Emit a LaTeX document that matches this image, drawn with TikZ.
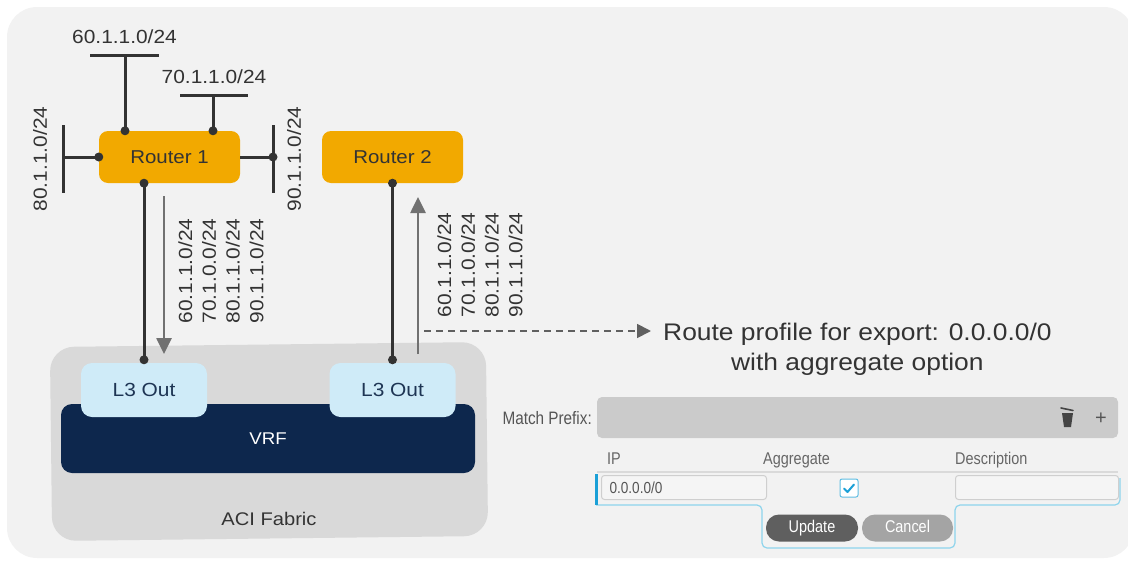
\documentclass[tikz,border=0pt]{standalone}
\usepackage{fontspec}
\setmainfont{Liberation Sans}
\newfontfamily\widefont[FakeStretch=1.1]{Liberation Sans}
\newfontfamily\narrowfont[FakeStretch=0.85]{Liberation Sans}
\usetikzlibrary{arrows.meta,calc}
\definecolor{panelbg}{HTML}{F2F2F2}
\definecolor{routerfill}{HTML}{F2A900}
\definecolor{txt}{HTML}{333333}
\definecolor{wirec}{HTML}{333333}
\definecolor{arrowc}{HTML}{717171}
\definecolor{fabricc}{HTML}{D9D9D9}
\definecolor{vrfc}{HTML}{0D274D}
\definecolor{l3c}{HTML}{CFEBF8}
\definecolor{l3txt}{HTML}{1E3554}
\definecolor{barc}{HTML}{CBCBCB}
\definecolor{uitxt}{HTML}{555555}
\definecolor{sepc}{HTML}{DADADA}
\definecolor{boxline}{HTML}{CFCFCF}
\definecolor{boxfill}{HTML}{F5F5F5}
\definecolor{cyanbar}{HTML}{1BA0D7}
\definecolor{cyanline}{HTML}{8ED4EC}
\definecolor{btndark}{HTML}{5F5F5F}
\definecolor{btnlight}{HTML}{A4A4A4}
\definecolor{iconc}{HTML}{444444}
\tikzset{
  router/.style={fill=routerfill, rounded corners=9pt, minimum width=141pt, minimum height=52pt,
    inner sep=0pt, font=\widefont\fontsize{18.6}{20}\selectfont, text=txt},
  l3box/.style={fill=l3c, rounded corners=11pt, minimum width=126pt, minimum height=54pt,
    inner sep=0pt, font=\widefont\fontsize{19}{21}\selectfont, text=l3txt},
  vrfbox/.style={fill=vrfc, rounded corners=11pt, minimum width=414pt, minimum height=69pt,
    inner sep=0pt, font=\widefont\fontsize{17}{18}\selectfont, text=white},
  fabricbox/.style={fill=fabricc, rounded corners=24pt, minimum width=436pt, minimum height=194pt, inner sep=0pt},
  fabtext/.style={font=\widefont\fontsize{18.3}{20}\selectfont, text=txt, inner sep=0pt},
  wire/.style={draw=wirec, line width=3pt},
  dotmark/.style={circle, fill=wirec, inner sep=0pt, minimum size=9pt},
  iplabel/.style={font=\widefont\fontsize{19}{23.8}\selectfont, text=txt, inner sep=0pt},
  garrow/.style={draw=arrowc, line width=2.6pt, -{Triangle[length=16pt,width=15pt]}},
  dasharrow/.style={draw=arrowc!85!black, line width=1.8pt, dash pattern=on 7pt off 5pt,
    -{Triangle[length=14pt,width=14pt]}},
  routetext/.style={font=\widefont\fontsize{24}{28}\selectfont, text=txt, inner sep=0pt},
  uitext/.style={font=\narrowfont\fontsize{18}{20}\selectfont, text=uitxt, inner sep=0pt},
  uihead/.style={font=\narrowfont\fontsize{17}{20}\selectfont, text=uitxt!90, inner sep=0pt},
  inbox/.style={draw=boxline, fill=boxfill, line width=1pt, rounded corners=3pt, minimum height=24pt,
    inner xsep=8pt, inner ysep=0pt, anchor=north west, font=\narrowfont\fontsize{16}{18}\selectfont, text=uitxt},
  btn/.style={rounded corners=13pt, minimum height=27pt, inner sep=0pt, text height=12pt, text depth=3pt,
    font=\narrowfont\fontsize{17}{19}\selectfont, text=white},
}
\begin{document}
\begin{tikzpicture}[x=1pt,y=-1pt]
\useasboundingbox (0,0) rectangle (1128,560);
% panel background
\fill[panelbg, rounded corners=30pt] (7,7) rectangle (1134,558);

% ACI fabric
\node[fabricbox, rotate=0.66] (fab) at (269,441.5) {};
\node[fabtext] (fablbl) at (269,519) {ACI Fabric};
\node[vrfbox] (vrf) at (268,438.5) {VRF};
\node[l3box] (l3a) at (144,390) {L3 Out};
\node[l3box] (l3b) at (392.5,390) {L3 Out};

% routers
\node[router] (r1) at (169.5,157) {Router 1};
\node[router] (r2) at (392.5,157) {Router 2};

% router 1 stub networks
\coordinate (n60) at (125,55);
\coordinate (n70) at (213,95);
\coordinate (n80) at (63,157);
\coordinate (n90) at (273,157);
\draw[wire] ([xshift=-35pt]n60) -- ([xshift=34pt]n60);
\draw[wire] ([xshift=-33pt]n70) -- ([xshift=35pt]n70);
\draw[wire] ([yshift=32pt]n80) -- ([yshift=-36pt]n80);
\draw[wire] ([yshift=32pt]n90) -- ([yshift=-36pt]n90);
\draw[wire] (n60) -- (n60 |- r1.north) node[dotmark] {};
\draw[wire] (n70) -- (n70 |- r1.north) node[dotmark] {};
\draw[wire] (n80) -- (n80 -| r1.west) node[dotmark] {};
\draw[wire] (r1.east) -- (n90) node[dotmark] {};
\node[iplabel] (lab60) at (124.5,37) {60.1.1.0/24};
\node[iplabel] (lab70) at (214,77) {70.1.1.0/24};
\node[iplabel, rotate=90] (lab80) at (40,159) {80.1.1.0/24};
\node[iplabel, rotate=90] (lab90) at (294,159) {90.1.1.0/24};

% router to L3 out links
\draw[wire] (l3a.north |- r1.south) node[dotmark] {} -- ([yshift=3pt]l3a.north) node[dotmark] {};
\draw[wire] (r2.south) node[dotmark] {} -- ([yshift=3pt]l3b.north) node[dotmark] {};

% route advertisement arrows
\coordinate (a1s) at (164,196);
\coordinate (a1e) at (164,354);
\coordinate (a2s) at (418,354);
\coordinate (a2e) at (418,197);
\draw[garrow] (a1s) -- (a1e);
\draw[garrow] (a2s) -- (a2e);
\node[iplabel, rotate=90, align=left] (adv1) at (221,271)
  {60.1.1.0/24\\70.1.0.0/24\\80.1.1.0/24\\90.1.1.0/24};
\node[iplabel, rotate=90, align=left] (adv2) at (480,265)
  {60.1.1.0/24\\70.1.0.0/24\\80.1.1.0/24\\90.1.1.0/24};

% route profile note
\node[routetext, anchor=base west] (route1) at (663,340) {Route profile for export: 0.0.0.0/0};
\node[routetext, anchor=base] (route2) at ([yshift=-30pt]route1.base) {with aggregate option};
\coordinate (dstart) at (424,331);
\draw[dasharrow] (dstart) -- ([xshift=-12pt]dstart -| route1.west);

% UI: match prefix
\node[uitext, anchor=east] (mp) at (592,418) {Match Prefix:};
\node[fill=barc, rounded corners=5pt, minimum width=521pt, minimum height=41pt, inner sep=0pt] (mpbar) at (857.5,417.5) {};
\fill[iconc] (1062,413) -- (1073,413) -- (1071,427) -- (1064,427) -- cycle;
\draw[iconc, line width=1.6pt, line cap=round] (1061,408) -- (1073,410.5);
\node[font=\fontsize{20}{22}\selectfont, text=uitxt, inner sep=0pt] (plus) at (1101,419) {+};

% headers
\node[uihead, anchor=base west] (hip) at (607,464) {IP};
\node[uihead, anchor=base west] (hagg) at (763,464) {Aggregate};
\node[uihead, anchor=base west] (hdesc) at (955,464) {Description};
\draw[sepc, line width=1.5pt] (597,472) -- (1118,472);

% row
\draw[cyanline, line width=1.2pt, rounded corners=5pt]
  (596,505) -- (762,505) -- (762,548) -- (955,548) -- (955,505) -- (1120,505) -- (1120,478);
\draw[cyanbar, line width=3pt] (596,474) -- (596,505);
\node[inbox, minimum width=165pt, text width=149pt, align=left] (ipbox) at (601,475) {0.0.0.0/0};
\node[draw=cyanbar!70, fill=white, line width=1pt, rounded corners=2pt, minimum size=18pt, inner sep=0pt] (cb) at (849,488) {};
\draw[cyanbar, line width=2pt, line cap=round, line join=round] (844,488.5) -- (847.5,492) -- (854,484.5);
\node[inbox, minimum width=163pt] (descbox) at (955,475) {};

% buttons
\node[btn, fill=btndark, minimum width=92pt] (upd) at (812,528) {Update};
\node[btn, fill=btnlight, minimum width=91pt] (can) at (907.5,528) {Cancel};
\end{tikzpicture}
\end{document}
